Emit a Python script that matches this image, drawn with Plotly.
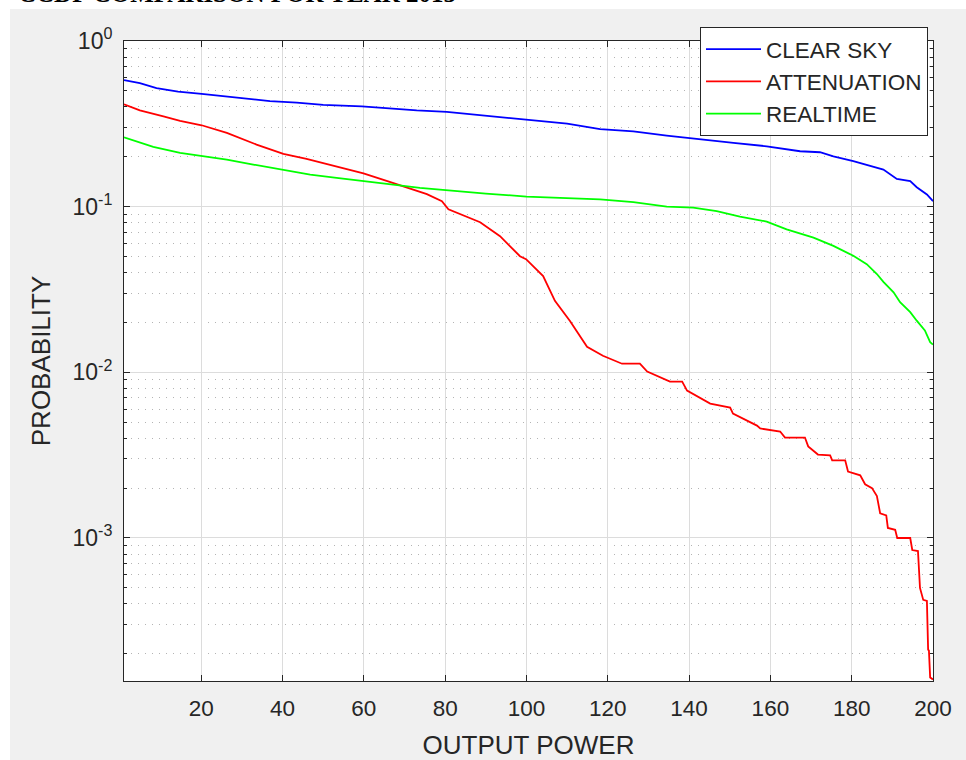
import plotly.graph_objects as go
import numpy as np

# ---- data ----
clear_x = [1, 4.9, 9.0, 14.3, 20.1, 27.8, 36.9, 43.5, 50, 59.5, 66.4, 73, 80.4, 90, 100, 110,
           118.1, 126.3, 134.5, 142.7, 150.9, 159.1, 167.3, 172.2, 175.5, 180.4, 187.8, 191.1,
           194.4, 196, 198.5, 200]
clear_y = [0.58, 0.557, 0.520, 0.495, 0.480, 0.458, 0.434, 0.425, 0.412, 0.403, 0.390, 0.381,
           0.373, 0.354, 0.335, 0.317, 0.294, 0.285, 0.2685, 0.2565, 0.2425, 0.2315, 0.216,
           0.213, 0.2015, 0.188, 0.1675, 0.147, 0.1425, 0.131, 0.1185, 0.108]

atten_x = [1, 4.9, 10.7, 14.8, 20.1, 26.3, 33.6, 40.2, 45.9, 52.5, 59.9, 65.6, 70.5, 75.5,
           79.2, 80.8, 88.6, 93.5, 98.4, 99.9, 104.1, 107, 110.7, 114.9, 118.8, 123.5, 127.9,
           129.7, 135.3, 138.3, 139.5, 145.2, 150.1, 150.8, 156.7, 157.5, 162.4, 163.6, 168.5,
           169.3, 171.7, 174.7, 175.2, 178.4, 179.1, 182.1, 183.3, 185, 186.2, 187, 188.5,
           188.9, 190.7, 191.2, 194.4, 194.9, 196.3, 196.8, 197.6, 198.5, 198.8, 199, 199.3, 200]
atten_y = [0.415, 0.381, 0.351, 0.330, 0.310, 0.279, 0.237, 0.208, 0.194, 0.177, 0.159, 0.143,
           0.131, 0.119, 0.108, 0.0963, 0.0805, 0.0663, 0.0502, 0.0482, 0.0381, 0.0270, 0.0204,
           0.01425, 0.01259, 0.01127, 0.01127, 0.0101, 0.00878, 0.00878, 0.00775, 0.00647,
           0.00612, 0.00563, 0.00477, 0.00458, 0.00439, 0.00404, 0.00404, 0.00357, 0.00319,
           0.00315, 0.00294, 0.00294, 0.00252, 0.00239, 0.00211, 0.00200, 0.00179, 0.00141,
           0.00137, 0.00115, 0.00112, 0.00100, 0.00100, 0.000846, 0.000834, 0.000500, 0.000423,
           0.000417, 0.000212, 0.000209, 0.000144, 0.00014]

real_x = [1, 4.9, 8.2, 14.8, 20.1, 26.3, 32.8, 40.2, 46.8, 53.3, 60.7, 67.2, 73.8, 80.8, 90,
          100, 110, 118.1, 126.3, 134.5, 141, 146.8, 152.5, 159.1, 164, 170.6, 175.5, 180.4,
          183.7, 186.2, 187.8, 190.3, 191.9, 194.4, 196, 198, 199.3, 200]
real_y = [0.262, 0.245, 0.2295, 0.211, 0.2015, 0.192, 0.1795, 0.1675, 0.156, 0.149, 0.1425,
          0.136, 0.130, 0.1253, 0.120, 0.115, 0.112, 0.1106, 0.1066, 0.100, 0.0986, 0.0941,
          0.0871, 0.0813, 0.073, 0.065, 0.058, 0.0505, 0.045, 0.0392, 0.0352, 0.0304, 0.0265,
          0.0231, 0.0205, 0.0179, 0.0152, 0.0147]

x_ticks = [20, 40, 60, 80, 100, 120, 140, 160, 180, 200]
y_ticks = [0.001, 0.01, 0.1, 1]
y_ticktext = ["10<sup>-3</sup>", "10<sup>-2</sup>", "10<sup>-1</sup>", "10<sup>0</sup>"]
series_names = ["CLEAR SKY", "ATTENUATION", "REALTIME"]

# ---- figure ----
W, H = 966, 760
L, R, T, B = 124, 33, 41, 79
pw, ph = W - L - R, H - T - B

def px_x(p):
    return (p - L) / pw

def px_y(p):
    return 1 - (p - T) / ph

AX = "#262626"
fig = go.Figure()
for xs, ys, name, col in [(clear_x, clear_y, series_names[0], "#0000ff"),
                          (atten_x, atten_y, series_names[1], "#ff0000"),
                          (real_x, real_y, series_names[2], "#00ff00")]:
    fig.add_trace(go.Scatter(x=xs, y=ys, mode="lines", name=name,
                             line=dict(color=col, width=1.8)))

# gray figure frame and white axes background
fig.add_shape(type="rect", xref="paper", yref="paper", layer="below",
              x0=px_x(10), x1=px_x(W + 20), y0=px_y(H + 20), y1=px_y(9),
              fillcolor="#f0f0f0", line=dict(width=0))
fig.add_shape(type="rect", xref="paper", yref="paper", layer="below",
              x0=0, x1=1, y0=0, y1=1, fillcolor="white", line=dict(width=0))

# cut-off title at the very top
fig.add_annotation(text="<b>CCDF COMPARISON FOR YEAR 2015</b>", xref="paper", yref="paper",
                   x=px_x(16), y=px_y(-6), xanchor="left", yanchor="middle", showarrow=False,
                   font=dict(family="Liberation Serif", size=25, color="black"))

fig.update_layout(
    width=W, height=H,
    margin=dict(l=L, r=R, t=T, b=B, autoexpand=False),
    paper_bgcolor="white", plot_bgcolor="rgba(0,0,0,0)",
    font=dict(family="Liberation Sans, Arial, sans-serif", color=AX),
    showlegend=True,
    legend=dict(x=px_x(928), y=px_y(27), xanchor="right", yanchor="top",
                bgcolor="white", bordercolor=AX, borderwidth=1, itemwidth=55,
                font=dict(size=22.5, color=AX), tracegroupgap=0),
)
fig.update_xaxes(
    range=[1, 200], tickvals=x_ticks, ticks="inside", ticklen=6, tickcolor=AX,
    showline=True, linecolor=AX, linewidth=1, mirror="ticks", automargin=False,
    showgrid=True, gridcolor="#dcdcdc", gridwidth=1, zeroline=False,
    tickfont=dict(size=22.5, color=AX), ticklabelstandoff=7,
    title=dict(text="OUTPUT POWER", font=dict(size=26, color=AX), standoff=16),
)
fig.update_yaxes(
    type="log", range=[np.log10(1.37e-4), 0], tickvals=y_ticks, ticktext=y_ticktext,
    ticks="inside", ticklen=6, tickcolor=AX, automargin=False,
    showline=True, linecolor=AX, linewidth=1, mirror="ticks",
    showgrid=True, gridcolor="#dcdcdc", gridwidth=1, zeroline=False,
    tickfont=dict(size=23, color=AX), ticklabelstandoff=6,
    minor=dict(dtick="D1", ticks="inside", ticklen=3, tickcolor=AX,
               showgrid=True, gridcolor="#b4b4b4", griddash="1px,6px", gridwidth=1.2),
    title=dict(text="PROBABILITY", font=dict(size=26, color=AX), standoff=14),
)

fig.write_html("out.html", config={"displayModeBar": False},
               post_script="document.body.style.margin='0';document.body.style.overflow='hidden';")
